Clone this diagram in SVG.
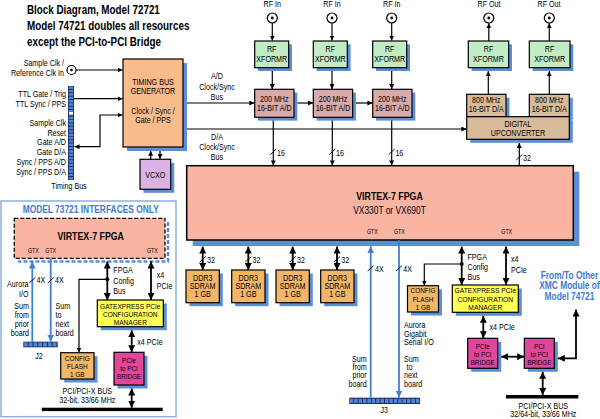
<svg xmlns="http://www.w3.org/2000/svg" width="600" height="419" viewBox="0 0 600 419">
<defs>
<style>
text{font-family:"Liberation Sans",Arial,sans-serif;font-size:8.5px;fill:#000}
.m{text-anchor:middle}.e{text-anchor:end}.b{font-weight:bold}
.g{font-size:6.3px}
.sm{font-size:7.8px}
.xs{font-size:7.3px}
.ttl{font-size:12px;font-weight:bold}
.blt{fill:#3b7bd4;font-weight:bold;font-size:10px}
.sh{fill:#5a8edb}
.bx{stroke:#000;stroke-width:1.2}
.ln{fill:none;stroke:#000;stroke-width:1.2}
.th{fill:none;stroke:#000;stroke-width:1.8}
.bln{fill:none;stroke:#3f7fd6;stroke-width:1.8}
.sl{stroke:#000;stroke-width:0.9}
.tm{fill:#f9bb8a}.fp{fill:#f9b4a4}.xf{fill:#c2ecc6}.ad{fill:#d9aaaa}.da{fill:#d8bc9a}.dd{fill:#f3b566}.ge{fill:#ffff55}.br{fill:#e0479c}.vc{fill:#dcb2e4}
.cn{fill:#fff;stroke:#000;stroke-width:1.2}
.strip{fill:#1b2d63}
.cells{stroke:#4f86d6;fill:none}
</style>
<marker id="a" viewBox="0 0 10 10" refX="10" refY="5" markerWidth="5" markerHeight="5" markerUnits="userSpaceOnUse" orient="auto-start-reverse"><path d="M0,0L10,5L0,10z"/></marker>
<marker id="a2" viewBox="0 0 10 10" refX="10" refY="5" markerWidth="7" markerHeight="7" markerUnits="userSpaceOnUse" orient="auto-start-reverse"><path d="M0,0L10,5L0,10z"/></marker>
<marker id="ab" viewBox="0 0 10 10" refX="10" refY="5" markerWidth="7" markerHeight="7" markerUnits="userSpaceOnUse" orient="auto-start-reverse"><path d="M0,0L10,5L0,10z" fill="#3f7fd6"/></marker>
</defs>
<rect width="600" height="419" fill="#fff"/>

<g id="title">
<text class="ttl" transform="translate(27 14) scale(.82 1)">Block Diagram, Model 72721</text>
<text class="ttl" transform="translate(27 30) scale(.82 1)">Model 74721 doubles all resources</text>
<text class="ttl" transform="translate(27 46) scale(.82 1)">except the PCI-to-PCI Bridge</text>
</g>

<g id="sample-clk-in">
<text class="e" transform="translate(64 66) scale(.84 1)">Sample Clk /</text>
<text class="e" transform="translate(64 76) scale(.84 1)">Reference Clk In</text>
<circle class="cn" cx="71.5" cy="70" r="4.5"/><circle cx="71.5" cy="70" r="1.3"/>
</g>

<g id="timing-bus">
<rect class="strip" x="68" y="86" width="6" height="94"/>
<line class="cells" x1="71" y1="86.6" x2="71" y2="179.4" stroke-width="4.4" stroke-dasharray="2.4 0.95"/>
<rect x="69" y="112" width="4" height="2.4" fill="#fff"/>
<text class="e" transform="translate(66 97) scale(.84 1)">TTL Gate / Trig</text>
<text class="e" transform="translate(66 107) scale(.84 1)">TTL Sync / PPS</text>
<text class="e" transform="translate(66 126) scale(.84 1)">Sample Clk</text>
<text class="e" transform="translate(66 135.7) scale(.84 1)">Reset</text>
<text class="e" transform="translate(66 145.3) scale(.84 1)">Gate A/D</text>
<text class="e" transform="translate(66 155.3) scale(.84 1)">Gate D/A</text>
<text class="e" transform="translate(66 164.7) scale(.84 1)">Sync / PPS A/D</text>
<text class="e" transform="translate(66 174.7) scale(.84 1)">Sync / PPS D/A</text>
<text class="m" transform="translate(69 189) scale(.84 1)">Timing Bus</text>
</g>

<g id="timing-gen">
<rect class="sh" x="127" y="63" width="60" height="88"/>
<rect class="bx tm" x="123" y="59" width="60" height="88"/>
<text class="m" transform="translate(153 85) scale(.84 1)">TIMING BUS</text>
<text class="m" transform="translate(153 94.3) scale(.84 1)">GENERATOR</text>
<text class="m" transform="translate(153 113.7) scale(.84 1)">Clock / Sync /</text>
<text class="m" transform="translate(153 123) scale(.84 1)">Gate / PPS</text>
</g>

<g id="vcxo">
<rect class="sh" x="143.5" y="162.8" width="30.7" height="30"/>
<rect class="bx vc" x="140" y="159.3" width="30.7" height="30"/>
<text class="m" transform="translate(155.3 178) scale(.84 1)">VCXO</text>
</g>

<g id="bus-labels">
<text class="m" transform="translate(217 79) scale(.84 1)">A/D</text>
<text class="m" transform="translate(217 89.5) scale(.84 1)">Clock/Sync</text>
<text class="m" transform="translate(217 100) scale(.84 1)">Bus</text>
<text class="m" transform="translate(217 140) scale(.84 1)">D/A</text>
<text class="m" transform="translate(217 150) scale(.84 1)">Clock/Sync</text>
<text class="m" transform="translate(217 160) scale(.84 1)">Bus</text>
</g>

<g id="rf-in-1"><text class="m" transform="translate(272.3 7) scale(.84 1)">RF In</text><circle class="cn" cx="272.3" cy="18" r="5"/><circle cx="272.3" cy="18" r="1.4"/></g>
<g id="rf-in-2"><text class="m" transform="translate(332 7) scale(.84 1)">RF In</text><circle class="cn" cx="332" cy="18" r="5"/><circle cx="332" cy="18" r="1.4"/></g>
<g id="rf-in-3"><text class="m" transform="translate(391.7 7) scale(.84 1)">RF In</text><circle class="cn" cx="391.7" cy="18" r="5"/><circle cx="391.7" cy="18" r="1.4"/></g>
<g id="rf-out-1"><text class="m" transform="translate(489 7) scale(.84 1)">RF Out</text><circle class="cn" cx="488.8" cy="18" r="5"/><circle cx="488.8" cy="18" r="1.4"/></g>
<g id="rf-out-2"><text class="m" transform="translate(549 7) scale(.84 1)">RF Out</text><circle class="cn" cx="549.3" cy="18" r="5"/><circle cx="549.3" cy="18" r="1.4"/></g>

<g id="xformr-1"><rect class="sh" x="258" y="44.3" width="34" height="26.7"/><rect class="bx xf" x="254.7" y="41" width="34" height="26.7"/><text class="m" transform="translate(271.7 51.5) scale(.84 1)">RF</text><text class="m" transform="translate(271.7 61.5) scale(.84 1)">XFORMR</text></g>
<g id="xformr-2"><rect class="sh" x="316.6" y="44.3" width="34" height="26.7"/><rect class="bx xf" x="313.3" y="41" width="34" height="26.7"/><text class="m" transform="translate(330.3 51.5) scale(.84 1)">RF</text><text class="m" transform="translate(330.3 61.5) scale(.84 1)">XFORMR</text></g>
<g id="xformr-3"><rect class="sh" x="376" y="44.3" width="34" height="26.7"/><rect class="bx xf" x="372.7" y="41" width="34" height="26.7"/><text class="m" transform="translate(389.7 51.5) scale(.84 1)">RF</text><text class="m" transform="translate(389.7 61.5) scale(.84 1)">XFORMR</text></g>
<g id="xformr-4"><rect class="sh" x="471.6" y="44.3" width="40.4" height="26.7"/><rect class="bx xf" x="468.3" y="41" width="40.4" height="26.7"/><text class="m" transform="translate(488.5 51.5) scale(.84 1)">RF</text><text class="m" transform="translate(488.5 61.5) scale(.84 1)">XFORMR</text></g>
<g id="xformr-5"><rect class="sh" x="532.6" y="44.3" width="40.7" height="26.7"/><rect class="bx xf" x="529.3" y="41" width="40.7" height="26.7"/><text class="m" transform="translate(549.6 51.5) scale(.84 1)">RF</text><text class="m" transform="translate(549.6 61.5) scale(.84 1)">XFORMR</text></g>

<g id="adc-1"><rect class="sh" x="258" y="92.6" width="39.3" height="28"/><rect class="bx ad" x="254.7" y="89.3" width="39.3" height="28"/><text class="m" transform="translate(274.3 101.5) scale(.84 1)">200 MHz</text><text class="m" transform="translate(274.3 111) scale(.84 1)">16-BIT A/D</text></g>
<g id="adc-2"><rect class="sh" x="316.6" y="92.6" width="39.3" height="28"/><rect class="bx ad" x="313.3" y="89.3" width="39.3" height="28"/><text class="m" transform="translate(333 101.5) scale(.84 1)">200 MHz</text><text class="m" transform="translate(333 111) scale(.84 1)">16-BIT A/D</text></g>
<g id="adc-3"><rect class="sh" x="376" y="92.6" width="39.3" height="28"/><rect class="bx ad" x="372.7" y="89.3" width="39.3" height="28"/><text class="m" transform="translate(392.3 101.5) scale(.84 1)">200 MHz</text><text class="m" transform="translate(392.3 111) scale(.84 1)">16-BIT A/D</text></g>

<g id="dac-upconverter">
<rect class="sh" x="470.2" y="97.8" width="39.3" height="22.4"/>
<rect class="sh" x="532.8" y="97.8" width="40" height="22.4"/>
<rect class="sh" x="470.2" y="120.2" width="102.6" height="22.6"/>
<rect class="bx da" x="466.7" y="94.3" width="39.3" height="22.4"/>
<rect class="bx da" x="529.3" y="94.3" width="40" height="22.4"/>
<rect class="bx da" x="466.7" y="116.7" width="102.6" height="22.6"/>
<text class="m" transform="translate(486.3 103) scale(.84 1)">800 MHz</text><text class="m" transform="translate(486.3 112) scale(.84 1)">16-BIT D/A</text>
<text class="m" transform="translate(549.3 103) scale(.84 1)">800 MHz</text><text class="m" transform="translate(549.3 112) scale(.84 1)">16-BIT D/A</text>
<text class="m" transform="translate(518 126.7) scale(.84 1)">DIGITAL</text><text class="m" transform="translate(518 136) scale(.84 1)">UPCONVERTER</text>
</g>

<g id="fpga">
<rect class="sh" x="192.7" y="171.7" width="386.6" height="74.3"/>
<rect class="fp" x="186.7" y="165.7" width="386.6" height="74.3" stroke="#000" stroke-width="1.5"/>
<text class="m b" transform="translate(389.5 200) scale(.84 1)" style="font-size:10.5px">VIRTEX-7 FPGA</text>
<text class="m" transform="translate(389.5 214.3) scale(.84 1)" style="font-size:10px">VX330T or VX690T</text>
<text class="m g" transform="translate(372.3 234) scale(.84 1)">GTX</text>
<text class="m g" transform="translate(399.3 234) scale(.84 1)">GTX</text>
<text class="m g" transform="translate(506.7 234) scale(.84 1)">GTX</text>
</g>

<g id="ddr-1"><rect class="sh" x="189.5" y="273.5" width="33.3" height="32.7"/><rect class="bx dd" x="186" y="270" width="33.3" height="32.7"/><text class="m" transform="translate(202.7 280.7) scale(.84 1)">DDR3</text><text class="m" transform="translate(202.7 289) scale(.84 1)">SDRAM</text><text class="m" transform="translate(202.7 297.3) scale(.84 1)">1 GB</text></g>
<g id="ddr-2"><rect class="sh" x="235.2" y="273.5" width="33.3" height="32.7"/><rect class="bx dd" x="231.7" y="270" width="33.3" height="32.7"/><text class="m" transform="translate(248.3 280.7) scale(.84 1)">DDR3</text><text class="m" transform="translate(248.3 289) scale(.84 1)">SDRAM</text><text class="m" transform="translate(248.3 297.3) scale(.84 1)">1 GB</text></g>
<g id="ddr-3"><rect class="sh" x="279.5" y="273.5" width="33.3" height="32.7"/><rect class="bx dd" x="276" y="270" width="33.3" height="32.7"/><text class="m" transform="translate(292.7 280.7) scale(.84 1)">DDR3</text><text class="m" transform="translate(292.7 289) scale(.84 1)">SDRAM</text><text class="m" transform="translate(292.7 297.3) scale(.84 1)">1 GB</text></g>
<g id="ddr-4"><rect class="sh" x="324.2" y="273.5" width="33.3" height="32.7"/><rect class="bx dd" x="320.7" y="270" width="33.3" height="32.7"/><text class="m" transform="translate(337.3 280.7) scale(.84 1)">DDR3</text><text class="m" transform="translate(337.3 289) scale(.84 1)">SDRAM</text><text class="m" transform="translate(337.3 297.3) scale(.84 1)">1 GB</text></g>

<g id="config-flash-r"><rect class="sh" x="411" y="289.2" width="31" height="26.3"/><rect class="bx dd" x="407.5" y="285.7" width="31" height="26.3"/><text class="m xs" transform="translate(423 293.2) scale(.88 1)">CONFIG</text><text class="m xs" transform="translate(423 301.5) scale(.88 1)">FLASH</text><text class="m xs" transform="translate(423 309.8) scale(.88 1)">1 GB</text></g>
<g id="gatexpress-r"><rect class="sh" x="455.8" y="288.5" width="66" height="27.3"/><rect class="bx ge" x="452.3" y="285" width="66" height="27.3"/><text class="m sm" transform="translate(485.3 293.3) scale(.86 1)">GATEXPRESS PCIe</text><text class="m sm" transform="translate(485.3 301.6) scale(.86 1)">CONFIGURATION</text><text class="m sm" transform="translate(485.3 309.7) scale(.86 1)">MANAGER</text></g>
<g id="pcie-bridge-r"><rect class="sh" x="471.2" y="341.8" width="30" height="30"/><rect class="bx br" x="467.7" y="338.3" width="30" height="30"/><text class="m xs" transform="translate(482.7 348.8) scale(.86 1)">PCIe</text><text class="m xs" transform="translate(482.7 357) scale(.86 1)">to PCI</text><text class="m xs" transform="translate(482.7 365.2) scale(.86 1)">BRIDGE</text></g>
<g id="pci-bridge-r"><rect class="sh" x="527.8" y="341.8" width="30" height="30"/><rect class="bx br" x="524.3" y="338.3" width="30" height="30"/><text class="m xs" transform="translate(539.3 348.8) scale(.86 1)">PCI</text><text class="m xs" transform="translate(539.3 357) scale(.86 1)">to PCI</text><text class="m xs" transform="translate(539.3 365.2) scale(.86 1)">BRIDGE</text></g>
<g id="pci-bus-r"><rect x="506" y="395" width="72.3" height="3.5"/><text class="m" transform="translate(543.3 408.5) scale(.84 1)">PCI/PCI-X BUS</text><text class="m" transform="translate(543.3 417) scale(.84 1)">32/64-bit, 33/66 MHz</text></g>
<g id="xmc-note"><text class="m blt" transform="translate(569.5 278.5) scale(.84 1)">From/To Other</text><text class="m blt" transform="translate(569.5 289.2) scale(.84 1)">XMC Module of</text><text class="m blt" transform="translate(569.5 300) scale(.84 1)">Model 74721</text></g>

<g id="j3">
<rect class="strip" x="349.3" y="397.7" width="70.7" height="6.3"/>
<line class="cells" x1="349.8" y1="400.85" x2="419.5" y2="400.85" stroke-width="4.3" stroke-dasharray="3.4 1"/>
<text class="m" transform="translate(384.3 413.3) scale(.84 1)">J3</text>
</g>
<g id="aurora-labels-r">
<text transform="translate(404 328.3) scale(.84 1)">Aurora</text><text transform="translate(404 336.7) scale(.84 1)">Gigabit</text><text transform="translate(404 345) scale(.84 1)">Serial I/O</text>
<text transform="translate(404 361.7) scale(.84 1)">Sum</text><text transform="translate(406.5 370) scale(.84 1)">to</text><text transform="translate(404 378.3) scale(.84 1)">next</text><text transform="translate(404 386.7) scale(.84 1)">board</text>
<text class="e" transform="translate(366.7 361.7) scale(.84 1)">Sum</text><text class="e" transform="translate(366.7 370) scale(.84 1)">from</text><text class="e" transform="translate(366.7 378.3) scale(.84 1)">prior</text><text class="e" transform="translate(366.7 386.7) scale(.84 1)">board</text>
<text transform="translate(467.5 260) scale(.84 1)">FPGA</text><text transform="translate(467.5 270) scale(.84 1)">Config</text><text transform="translate(467.5 280) scale(.84 1)">Bus</text>
<text transform="translate(511 262) scale(.84 1)">x4</text><text transform="translate(511 272.5) scale(.84 1)">PCIe</text>
<text transform="translate(489.5 329.5) scale(.84 1)">x4 PCIe</text>
</g>

<g id="panel-73721">
<rect x="1" y="201" width="175" height="215.7" fill="#fff" stroke="#8cb0e4" stroke-width="1.5"/>
<text class="m blt" transform="translate(90.7 212.7) scale(.84 1)">MODEL 73721 INTERFACES ONLY</text>
</g>
<g id="fpga-73721">
<path d="M168 222V261.5H18" fill="none" stroke="#5a8edb" stroke-width="2.5" stroke-dasharray="4 2"/>
<rect class="fp" x="14.3" y="218.3" width="150.7" height="40" stroke="#000" stroke-width="1.3" stroke-dasharray="4 2"/>
<text class="m b" transform="translate(90.7 239.5) scale(.84 1)" style="font-size:10.5px">VIRTEX-7 FPGA</text>
<text class="m g" transform="translate(33.3 252.7) scale(.84 1)">GTX</text>
<text class="m g" transform="translate(50.7 252.7) scale(.84 1)">GTX</text>
<text class="m g" transform="translate(152.3 252.7) scale(.84 1)">GTX</text>
</g>
<g id="j2">
<rect class="strip" x="23.3" y="341.7" width="34.4" height="5.6"/>
<line class="cells" x1="23.9" y1="344.5" x2="57.1" y2="344.5" stroke-width="3.8" stroke-dasharray="3.8 1"/>
<text class="m" transform="translate(39 359) scale(.84 1)">J2</text>
</g>
<g id="labels-73721">
<text class="e" transform="translate(28.5 287.3) scale(.84 1)">Aurora</text><text class="e" transform="translate(28.5 297.3) scale(.84 1)">I/O</text>
<text class="e" transform="translate(29 309.3) scale(.84 1)">Sum</text><text class="e" transform="translate(29 318.3) scale(.84 1)">from</text><text class="e" transform="translate(29 327) scale(.84 1)">prior</text><text class="e" transform="translate(29 335.7) scale(.84 1)">board</text>
<text transform="translate(55.5 309.3) scale(.84 1)">Sum</text><text transform="translate(55.5 318.3) scale(.84 1)">to</text><text transform="translate(55.5 327) scale(.84 1)">next</text><text transform="translate(55.5 335.7) scale(.84 1)">board</text>
<text transform="translate(113.3 273.3) scale(.84 1)">FPGA</text><text transform="translate(113.3 284) scale(.84 1)">Config</text><text transform="translate(113.3 294) scale(.84 1)">Bus</text>
<text transform="translate(156.7 278.3) scale(.84 1)">x4</text><text transform="translate(156.7 289) scale(.84 1)">PCIe</text>
<text transform="translate(137.3 345) scale(.84 1)">x4 PCIe</text>
</g>
<g id="gatexpress-l"><rect class="sh" x="100.8" y="303.5" width="66" height="26.7"/><rect class="bx ge" x="97.3" y="300" width="66" height="26.7"/><text class="m xs" transform="translate(130.3 308.6) scale(.9 1)">GATEXPRESS PCIe</text><text class="m xs" transform="translate(130.3 316.9) scale(.9 1)">CONFIGURATION</text><text class="m xs" transform="translate(130.3 325.2) scale(.9 1)">MANAGER</text></g>
<g id="config-flash-l"><rect class="sh" x="64.2" y="356.2" width="33.3" height="26.3"/><rect class="bx dd" x="60.7" y="352.7" width="33.3" height="26.3"/><text class="m xs" transform="translate(77.3 360.8) scale(.88 1)">CONFIG</text><text class="m xs" transform="translate(77.3 369.1) scale(.88 1)">FLASH</text><text class="m xs" transform="translate(77.3 377.4) scale(.88 1)">1 GB</text></g>
<g id="pcie-bridge-l"><rect class="sh" x="117.5" y="355.8" width="30" height="32.7"/><rect class="bx br" x="114" y="352.3" width="30" height="32.7"/><text class="m xs" transform="translate(129 362.5) scale(.86 1)">PCIe</text><text class="m xs" transform="translate(129 370.8) scale(.86 1)">to PCI</text><text class="m xs" transform="translate(129 379.1) scale(.86 1)">BRIDGE</text></g>
<g id="pci-bus-l"><rect x="41.7" y="407.7" width="121" height="3.4"/><text class="m" transform="translate(87.3 394) scale(.84 1)">PCI/PCI-X BUS</text><text class="m" transform="translate(87.3 403.3) scale(.84 1)">32-bit, 33/66 MHz</text></g>

<g id="connectors">
<path class="ln" d="M76 70H122.5" marker-end="url(#a)"/>
<path class="ln" d="M74 98.7H122.5" marker-end="url(#a)"/>
<path class="ln" d="M74.5 146.7H100V115H122.5" marker-start="url(#a)" marker-end="url(#a)"/>
<path class="ln" d="M150.7 159.3V150.8" marker-end="url(#a)"/>
<path class="ln" d="M160 151V159" marker-end="url(#a)"/>
<path class="ln" d="M187 103H254.3" marker-end="url(#a)"/>
<path class="ln" d="M297.5 103H313" marker-end="url(#a)"/>
<path class="ln" d="M356 103H372.4" marker-end="url(#a)"/>
<path class="ln" d="M187 129H466.3" marker-end="url(#a)"/>
<path class="ln" d="M272.3 23V40.6" marker-end="url(#a)"/>
<path class="ln" d="M332 23V40.6" marker-end="url(#a)"/>
<path class="ln" d="M391.7 23V40.6" marker-end="url(#a)"/>
<path class="ln" d="M272.3 71V89" marker-end="url(#a)"/>
<path class="ln" d="M332 71V89" marker-end="url(#a)"/>
<path class="ln" d="M391.7 71V89" marker-end="url(#a)"/>
<path class="ln" d="M273.3 120.6V165.4" marker-end="url(#a)"/>
<path class="ln" d="M332.3 120.6V165.4" marker-end="url(#a)"/>
<path class="ln" d="M391.7 120.6V165.4" marker-end="url(#a)"/>
<path class="sl" d="M270.3 154.5L276.3 149M329.3 154.5L335.3 149M388.7 154.5L394.7 149"/>
<text transform="translate(277 155.5) scale(.84 1)">16</text><text transform="translate(336 155.5) scale(.84 1)">16</text><text transform="translate(395.4 155.5) scale(.84 1)">16</text>
<path class="ln" d="M488.8 41V23.3" marker-end="url(#a)"/>
<path class="ln" d="M549.3 41V23.3" marker-end="url(#a)"/>
<path class="ln" d="M488.3 94.3V71.2" marker-end="url(#a)"/>
<path class="ln" d="M549.3 94.3V71.2" marker-end="url(#a)"/>
<path class="ln" d="M519.3 165.7V143" marker-end="url(#a)"/>
<path class="sl" d="M516.3 160L522.3 154.5"/><text transform="translate(523 160.5) scale(.84 1)">32</text>
<path class="th" d="M202.7 246.5V270" marker-start="url(#a2)" marker-end="url(#a2)"/>
<path class="th" d="M248.3 246.5V270" marker-start="url(#a2)" marker-end="url(#a2)"/>
<path class="th" d="M292.7 246.5V270" marker-start="url(#a2)" marker-end="url(#a2)"/>
<path class="th" d="M337 246.5V270" marker-start="url(#a2)" marker-end="url(#a2)"/>
<path class="sl" d="M199.7 262L205.7 256.5M245.3 262L251.3 256.5M289.7 262L295.7 256.5M334 262L340 256.5"/>
<text transform="translate(207 263) scale(.84 1)">32</text><text transform="translate(252.5 263) scale(.84 1)">32</text><text transform="translate(297 263) scale(.84 1)">32</text><text transform="translate(341.3 263) scale(.84 1)">32</text>
<path class="bln" d="M370.7 397.7V246.3" marker-end="url(#ab)"/>
<path class="bln" d="M399 240V397.5" marker-end="url(#ab)"/>
<path class="sl" d="M367.7 271L373.7 265.5M396 271L402 265.5"/>
<text transform="translate(375 271.5) scale(.84 1)">4X</text><text transform="translate(403.3 271.5) scale(.84 1)">4X</text>
<path class="th" d="M461.7 246.5V285" marker-start="url(#a2)" marker-end="url(#a2)"/>
<circle cx="461.7" cy="264" r="2"/>
<path class="ln" d="M461.7 264H424.3V285.5" marker-end="url(#a)"/>
<path class="th" d="M506 246.5V285" marker-start="url(#a2)" marker-end="url(#a2)"/>
<path class="th" d="M483.3 315.8V338.2" marker-start="url(#a2)" marker-end="url(#a2)"/>
<path class="th" d="M501.2 356.7H524.2" marker-start="url(#a2)" marker-end="url(#a2)"/>
<path class="th" d="M557.8 358.3H576V309.5" marker-start="url(#a2)" marker-end="url(#a2)"/>
<path class="th" d="M542.7 371.8V395" marker-start="url(#a2)" marker-end="url(#a2)"/>
<path class="bln" d="M32.3 341.7V261.5" marker-end="url(#ab)"/>
<path class="bln" d="M50.7 258.3V341.5" marker-end="url(#ab)"/>
<path class="sl" d="M29.3 283L35.3 277.5M47.7 283L53.7 277.5"/>
<text transform="translate(36.5 283.3) scale(.84 1)">4X</text><text transform="translate(55 283.3) scale(.84 1)">4X</text>
<path class="th" d="M107.3 261.5V300" marker-start="url(#a2)" marker-end="url(#a2)"/>
<circle cx="107.3" cy="279.3" r="2"/>
<path class="ln" d="M107.3 279.3H79V352.5" marker-end="url(#a)"/>
<path class="th" d="M151 261.5V300" marker-start="url(#a2)" marker-end="url(#a2)"/>
<path class="th" d="M131.7 330.2V352.2" marker-start="url(#a2)" marker-end="url(#a2)"/>
<path class="th" d="M131.7 388.5V407.7" marker-start="url(#a2)" marker-end="url(#a2)"/>
</g>
</svg>
